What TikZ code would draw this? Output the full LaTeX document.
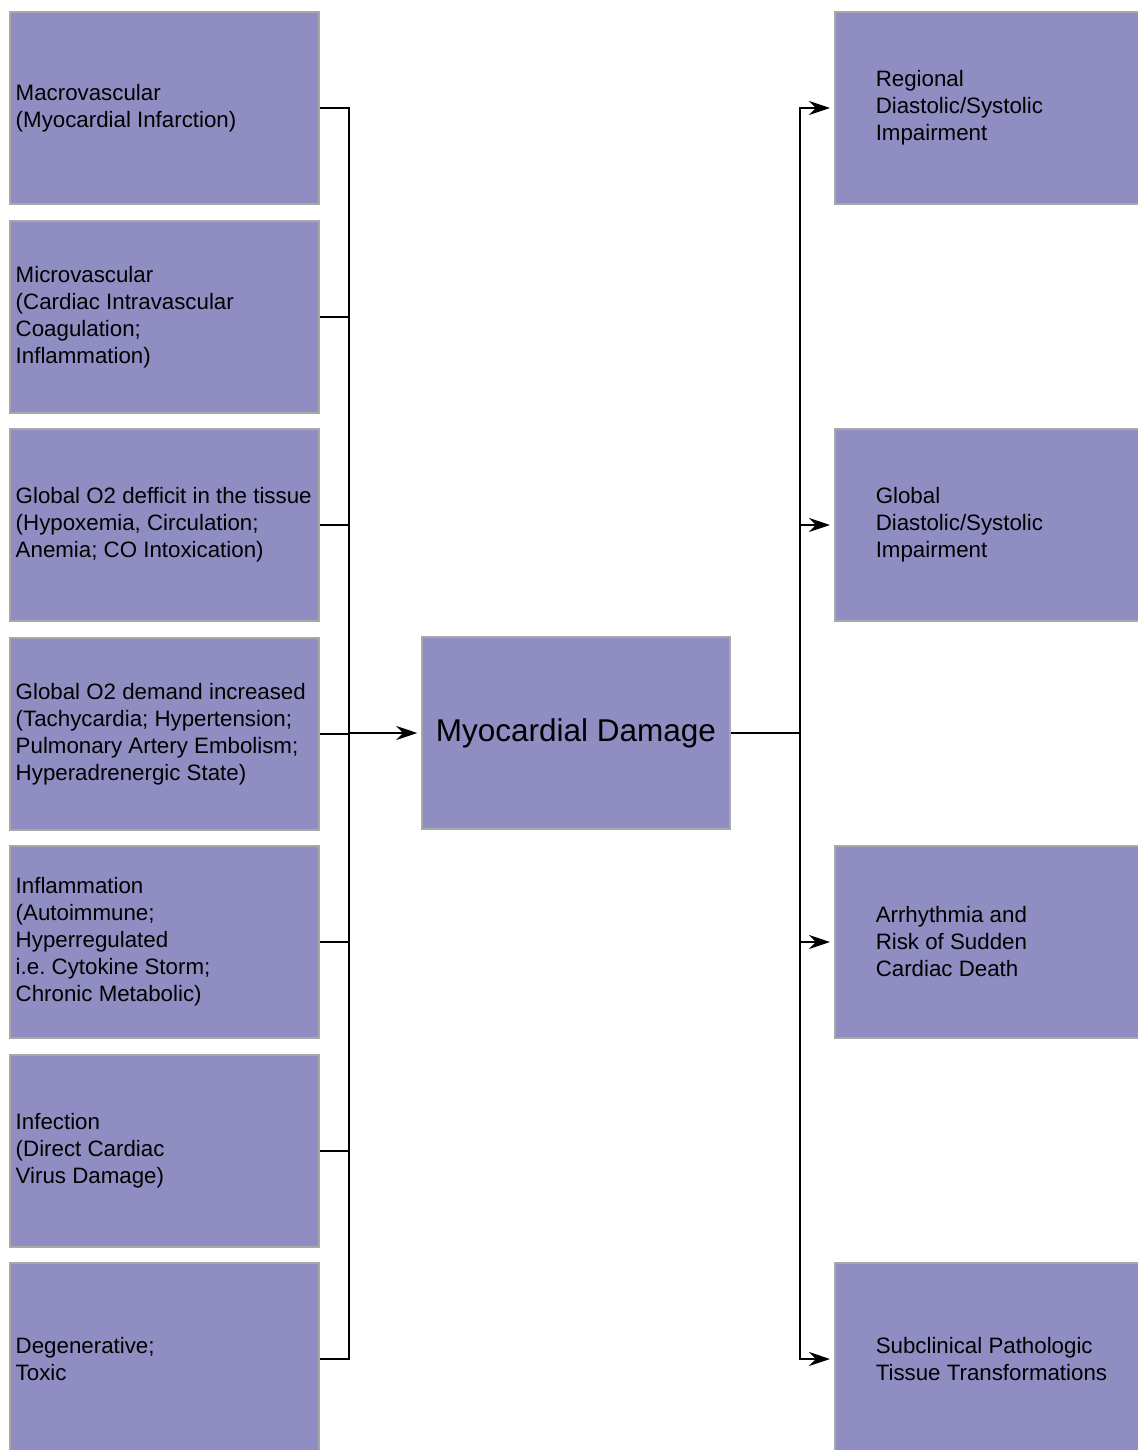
\documentclass[tikz,border=0pt]{standalone}
\usepackage{fontspec}
\setmainfont{Liberation Sans}
\usetikzlibrary{arrows.meta}
\definecolor{boxfill}{RGB}{143,141,194}
\definecolor{boxline}{RGB}{168,168,168}
\frenchspacing

\begin{document}
\begin{tikzpicture}
            [x=1pt,y=-1pt,line width=2pt,
             every node/.style={fill=boxfill,draw=boxline,line width=1.5pt,minimum height=192pt,
               font=\fontsize{22.3}{27}\selectfont,align=flush left},
             cause/.style={text width=297pt,inner xsep=6pt,anchor=west},
             effect/.style={text width=250pt,inner xsep=41pt,anchor=west},
             arr/.style={{Stealth[length=21pt,width=14pt]}-{Stealth[length=21pt,width=14pt]},shorten <=4pt,shorten >=4pt}]
            \useasboundingbox (0,0) rectangle (1137,1450);
            % causes
            \node[cause] (c1) at (9,108) {Macrovascular\\(Myocardial Infarction)};
            \node[cause] (c2) at (9,317) {Microvascular\\(Cardiac Intravascular\\Coagulation;\\Inflammation)};
            \node[cause] (c3) at (9,525) {Global O2 defficit in the tissue\\(Hypoxemia, Circulation;\\Anemia; CO Intoxication)};
            \node[cause] (c4) at (9,734) {Global O2 demand increased\\(Tachycardia; Hypertension;\\Pulmonary Artery Embolism;\\Hyperadrenergic State)};
            \node[cause] (c5) at (9,942) {Inflammation\\(Autoimmune;\\Hyperregulated\\i.e. Cytokine Storm;\\Chronic Metabolic)};
            \node[cause] (c6) at (9,1151) {Infection\\(Direct Cardiac\\Virus Damage)};
            \node[cause] (c7) at (9,1359) {Degenerative;\\Toxic};
            % damage
            \node[minimum width=308pt,font=\fontsize{31.5}{36}\selectfont] (d) at (576,733) {Myocardial Damage};
            % outcomes
            \node[effect] (o1) at (834,108) {Regional\\Diastolic/Systolic\\Impairment};
            \node[effect] (o2) at (834,525) {Global\\Diastolic/Systolic\\Impairment};
            \node[effect] (o3) at (834,942) {Arrhythmia and\\Risk of Sudden\\Cardiac Death};
            \node[effect] (o4) at (834,1359) {Subclinical Pathologic\\Tissue Transformations};
            \coordinate (lb) at (349,0);
            \coordinate (rb) at (800,0);
            \draw (c1.east) -| (c7.east -| lb) -- (c7.east);
            \draw (c2.east) -- (c2.east -| lb);
            \draw (c3.east) -- (c3.east -| lb);
            \draw (c5.east) -- (c5.east -| lb);
            \draw (c6.east) -- (c6.east -| lb);
            \draw (c4.east) -- (c4.east -| lb);
            \draw[-{Stealth[length=21pt,width=14pt]},shorten >=4pt] (d.west -| lb) -- (d.west);
            \draw (d.east) -- (d.east -| rb);
            \draw[arr] (o1.west) -| (o4.west -| rb) -- (o4.west);
            \draw[-{Stealth[length=21pt,width=14pt]},shorten >=4pt] (o2.west -| rb) -- (o2.west);
            \draw[-{Stealth[length=21pt,width=14pt]},shorten >=4pt] (o3.west -| rb) -- (o3.west);

        \end{tikzpicture}
\end{document}
